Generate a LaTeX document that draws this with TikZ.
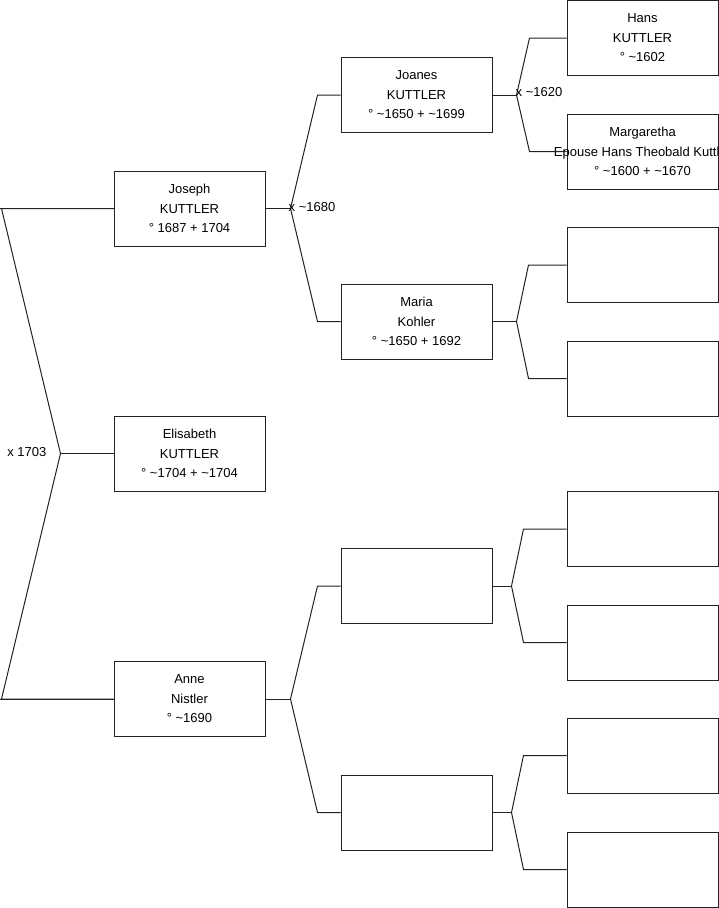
\documentclass[tikz,border=0pt]{standalone}
\usepackage{fontspec}
\setmainfont{Liberation Sans}
\usetikzlibrary{positioning,calc}
\definecolor{lineDark}{HTML}{222222}
\tikzset{
  person/.style={draw=lineDark,line width=1pt,fill=white,
                 minimum width=151pt,minimum height=75pt,
                 inner sep=0pt,align=center,
                 font=\fontsize{13pt}{19.5pt}\selectfont},
  link/.style={draw=lineDark,line width=1pt},
  wedlabel/.style={font=\fontsize{13pt}{15pt}\selectfont,
                   inner sep=0pt},
}
% child, father box, mother box, fork length, bend length
\newcommand{\parentFork}[5]{%
  \draw[link] (#1.east) -- ++(#4,0) coordinate (#1-f);
  \draw[link] (#2.west) -- ++(-#5,0) -- (#1-f)
              -- ($(#3.west)+(-#5,0)$) -- (#3.west);%
}
\begin{document}
\begin{tikzpicture}[x=1pt,y=-1pt]
  \useasboundingbox (0,0) rectangle (719,908);
  % generation 1
  \node[person] (joseph) at (189.5,208.5) {Joseph\\KUTTLER\\° 1687 + 1704};
  \node[person] (elis)   at (189.5,453.5) {Elisabeth\\KUTTLER\\° \textasciitilde 1704 + \textasciitilde 1704};
  \node[person] (anne)   at (189.5,699)   {Anne\\Nistler\\° \textasciitilde 1690};
  % generation 2
  \node[person] (joanes) at (416.5,95)    {Joanes\\KUTTLER\\° \textasciitilde 1650 + \textasciitilde 1699};
  \node[person] (maria)  at (416.5,321.5) {Maria\\Kohler\\° \textasciitilde 1650 + 1692};
  \node[person] (p3)     at (416.5,586)   {};
  \node[person] (p4)     at (416.5,812.5) {};
  % generation 3
  \node[person] (hans)   at (642.5,38)    {Hans\\KUTTLER\\° \textasciitilde 1602};
  \node[person,fill=none] (marg) at (642.5,151.5)
        {Margaretha\\\makebox[0pt]{Epouse Hans Theobald Kuttler}\\° \textasciitilde 1600 + \textasciitilde 1670};
  \node[person] (q3)     at (642.5,265)   {};
  \node[person] (q4)     at (642.5,378.5) {};
  \node[person] (q5)     at (642.5,529)   {};
  \node[person] (q6)     at (642.5,642.5) {};
  \node[person] (q7)     at (642.5,755.5) {};
  \node[person] (q8)     at (642.5,869.5) {};

  % marriage of the parents
  \coordinate (m0) at ($(elis.west)+(-53,0)$);
  \draw[link] (elis.west) -- (m0);
  \draw[link] (joseph.west) -- ++(-112,0) -- (m0)
              -- ($(anne.west)+(-112,0)$) -- (anne.west);
  \draw[link] (joseph.west) -- ++(-114,0);
  \draw[link] (anne.west) -- ++(-114,0);
  \node[wedlabel,anchor=east] (w0) at ($(m0)+(-14,-1)$) {x 1703};

  % grandparents and great-grandparents
  \parentFork{joseph}{joanes}{maria}{25}{23}
  \parentFork{anne}{p3}{p4}{25}{23}
  \parentFork{joanes}{hans}{marg}{24}{37}
  \parentFork{maria}{q3}{q4}{24}{38}
  \parentFork{p3}{q5}{q6}{19}{43}
  \parentFork{p4}{q7}{q8}{19}{43}

  \node[wedlabel,anchor=west] (w1) at ($(joseph-f)+(-2,-1)$) {x \textasciitilde 1680};
  \node[wedlabel,anchor=west] (w2) at ($(joanes-f)+(-1,-3)$) {x \textasciitilde 1620};
\end{tikzpicture}
\end{document}
